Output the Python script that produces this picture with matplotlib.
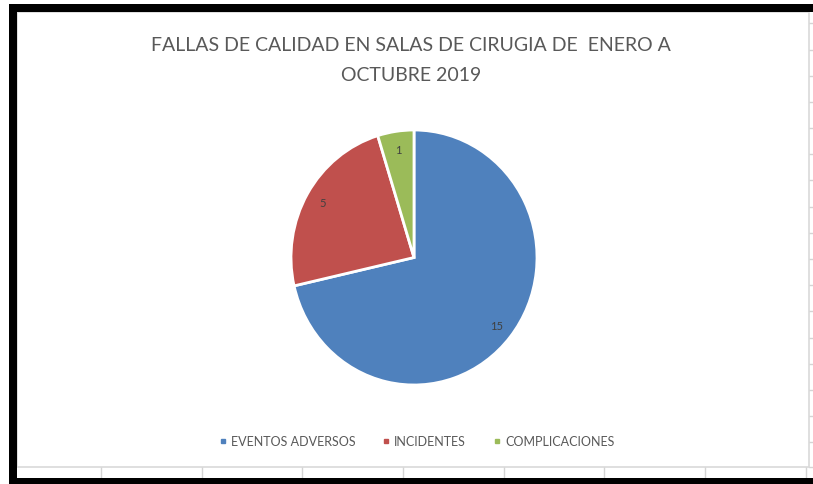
import matplotlib
matplotlib.use('Agg')
import matplotlib.pyplot as plt
from matplotlib.patches import Rectangle
from matplotlib.lines import Line2D

categories = ['EVENTOS ADVERSOS', 'INCIDENTES', 'COMPLICACIONES']
values = [15, 5, 1]
colors = ['#4F81BD', '#C0504D', '#9BBB59']
title = 'FALLAS DE CALIDAD EN SALAS DE CIRUGIA DE  ENERO A\nOCTUBRE 2019'

W, H = 813, 485
plt.rcParams['font.family'] = ['Lato', 'DejaVu Sans']

fig = plt.figure(figsize=(W / 100, H / 100), dpi=100)
fig.patch.set_facecolor('white')


def fx(x):
    return x / W


def fy(y):
    return 1 - y / H


def rect(x0, y0, x1, y1, **kw):
    fig.patches.append(Rectangle((fx(x0), fy(y1)), fx(x1) - fx(x0), fy(y0) - fy(y1),
                                 transform=fig.transFigure, figure=fig, zorder=-2, **kw))


def line(x0, y0, x1, y1, **kw):
    fig.lines.append(Line2D([fx(x0), fx(x1)], [fy(y0), fy(y1)],
                            transform=fig.transFigure, figure=fig, zorder=-3, **kw))


# spreadsheet cells around the chart
grid_c = '#d4d4d4'
for gx in [100.7, 201.7, 302.3, 402.7, 504, 604.3, 705, 806]:
    line(gx, 468, gx, 479, color=grid_c, lw=1)
for gy in [24, 51, 77, 103, 129, 155, 181, 208, 234, 260, 286, 312, 339, 365, 391, 417, 443]:
    line(809, gy, 813, gy, color=grid_c, lw=1)
line(809, 468, 813, 468, color=grid_c, lw=1)

# chart area
rect(17, 13, 809, 468, facecolor='white', edgecolor='#d9d9d9', lw=1.2)

# black frame of the screenshot
rect(9, 5, 813, 13, facecolor='black', edgecolor='none')
rect(9, 5, 17, 485, facecolor='black', edgecolor='none')
rect(9, 479, 813, 485, facecolor='black', edgecolor='none')

# pie
ax = fig.add_axes([fx(291), fy(386), fx(537) - fx(291), fy(131) - fy(386)])
ax.set_zorder(5)
wedges, texts, autotexts = ax.pie(values, colors=colors, startangle=90, counterclock=False,
                                  autopct=lambda p: '%d' % round(p * sum(values) / 100),
                                  pctdistance=0.86,
                                  wedgeprops=dict(edgecolor='white', linewidth=2),
                                  textprops=dict(color='#404040', fontsize=8))
ax.set_aspect('auto')
ax.set_xlim(-1, 1)
ax.set_ylim(-1, 1)

fig.text(fx(411), fy(60.5), title, ha='center', va='center', color='#595959',
         fontsize=14, linespacing=1.86)

handles = [Line2D([], [], marker='s', ls='none', color=c, markersize=3.5) for c in colors]
fig.legend(handles, categories, loc='center', bbox_to_anchor=(fx(417), fy(442)), ncol=3,
           frameon=False, fontsize=9, labelcolor='#595959', handlelength=0.5,
           handletextpad=0.4, columnspacing=2.2)

fig.savefig('out.png', dpi=100, facecolor='white')
